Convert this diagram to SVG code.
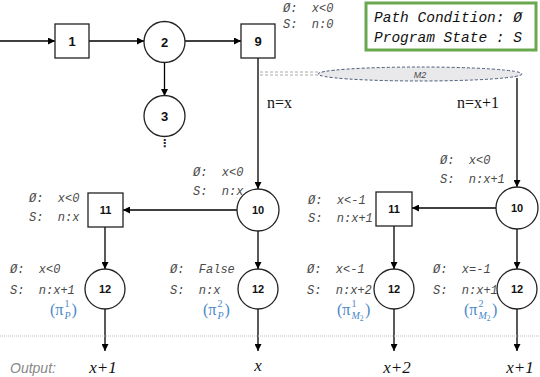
<svg xmlns="http://www.w3.org/2000/svg" width="540" height="377" viewBox="0 0 540 377">
<defs>
<marker id="ah" viewBox="0 0 10 10" refX="10" refY="5" markerWidth="7" markerHeight="7" markerUnits="userSpaceOnUse" orient="auto"><path d="M0,0 L10,5 L0,10 z" fill="#000"/></marker>
<style>
.n{fill:#fff;stroke:#222;stroke-width:1.3}
.nt{font-family:"Liberation Sans",Arial,sans-serif;font-weight:bold;font-size:13px;text-anchor:middle;fill:#111}
.ns{font-family:"Liberation Sans",Arial,sans-serif;font-weight:bold;font-size:11px;text-anchor:middle;fill:#111}
.e{stroke:#000;stroke-width:1.3;fill:none;marker-end:url(#ah)}
.lb{font-family:"Liberation Mono","Courier New",monospace;font-style:italic;font-size:12px;fill:#4a4a4a;white-space:pre}
.lg{font-family:"Liberation Mono","Courier New",monospace;font-style:italic;font-size:14.5px;fill:#111;white-space:pre}
.pi{font-family:"Liberation Serif","Times New Roman",serif;font-size:16px;fill:#4a88c8}
.pis{font-family:"Liberation Serif","Times New Roman",serif;font-size:10px;fill:#4a88c8}
.cond{font-family:"Liberation Serif","Times New Roman",serif;font-size:16px;fill:#111}
.out{font-family:"Liberation Serif","Times New Roman",serif;font-style:italic;font-size:17px;fill:#111;text-anchor:middle}
</style>
</defs>
<rect width="540" height="377" fill="#fff"/>

<g id="legend">
<rect x="366" y="3" width="170" height="47" fill="#fff" stroke="#6aa84f" stroke-width="3"/>
<text class="lg" x="374" y="22">Path Condition: Ø</text>
<text class="lg" x="374" y="42">Program State : S</text>
</g>

<g id="connectors">
<line class="e" x1="0" y1="41" x2="55" y2="41"/>
<line class="e" x1="89" y1="41" x2="144" y2="41"/>
<line class="e" x1="185" y1="41" x2="241" y2="41"/>
<line class="e" x1="164.5" y1="62" x2="164.5" y2="96"/>
<line class="e" x1="258" y1="58" x2="258" y2="189"/>
<line stroke="#aaa" stroke-width="1" stroke-dasharray="3,2" x1="260" y1="72" x2="318" y2="72"/>
<line stroke="#aaa" stroke-width="1" stroke-dasharray="3,2" x1="260" y1="75" x2="318" y2="75"/>
<line class="e" x1="517" y1="78" x2="517" y2="187"/>
<line class="e" x1="237" y1="210" x2="123" y2="210"/>
<line class="e" x1="496" y1="208" x2="412" y2="208"/>
<line class="e" x1="105" y1="227" x2="105" y2="269"/>
<line class="e" x1="258" y1="231" x2="258" y2="269"/>
<line class="e" x1="394" y1="226" x2="394" y2="269"/>
<line class="e" x1="517" y1="229" x2="517" y2="269"/>
<line class="e" x1="105" y1="309" x2="105" y2="351"/>
<line class="e" x1="258" y1="309" x2="258" y2="351"/>
<line class="e" x1="394" y1="309" x2="394" y2="351"/>
<line class="e" x1="517" y1="309" x2="517" y2="351"/>
<text class="cond" x="267" y="108">n=x</text>
<text class="cond" x="457" y="108">n=x+1</text>
</g>

<g id="sep">
<line x1="0" y1="336" x2="540" y2="336" stroke="#bbb" stroke-width="1" stroke-dasharray="1,1"/>
</g>

<g id="m2">
<ellipse cx="420" cy="74" rx="102" ry="7" fill="#e9e9ec" stroke="#4a5a78" stroke-width="1" stroke-dasharray="3,2"/>
<text x="420" y="77.5" font-family="Liberation Sans,Arial,sans-serif" font-style="italic" font-size="9" text-anchor="middle" fill="#444">M2</text>
</g>

<g id="n1"><rect class="n" x="55" y="24" width="34" height="34"/><text class="nt" x="72" y="46">1</text></g>
<g id="n2"><circle class="n" cx="164.5" cy="42" r="20.5"/><text class="nt" x="164.5" y="47">2</text></g>
<g id="n3"><circle class="n" cx="164.5" cy="116" r="20.5"/><text class="nt" x="164.5" y="121">3</text>
<text x="164.5" y="147" font-family="DejaVu Sans,sans-serif" font-size="11" font-weight="bold" text-anchor="middle" fill="#222">⋮</text></g>
<g id="n9"><rect class="n" x="241" y="24" width="34" height="34"/><text class="nt" x="258" y="46">9</text>
<text class="lb" x="283" y="12">Ø:  x&lt;0</text><text class="lb" x="283" y="28">S:  n:0</text></g>

<g id="n10a"><circle class="n" cx="258" cy="210" r="21"/><text class="ns" x="258" y="214">10</text>
<text class="lb" x="193" y="176">Ø:  x&lt;0</text><text class="lb" x="193" y="195">S:  n:x</text></g>
<g id="n11a"><rect class="n" x="88" y="193" width="35" height="34"/><text class="ns" x="105.5" y="214">11</text>
<text class="lb" x="29" y="202">Ø:  x&lt;0</text><text class="lb" x="29" y="221">S:  n:x</text></g>
<g id="n10b"><circle class="n" cx="517" cy="208" r="21"/><text class="ns" x="517" y="212">10</text>
<text class="lb" x="440" y="164">Ø:  x&lt;0</text><text class="lb" x="440" y="183">S:  n:x+1</text></g>
<g id="n11b"><rect class="n" x="376" y="192" width="36" height="34"/><text class="ns" x="394" y="213">11</text>
<text class="lb" x="308" y="204">Ø:  x&lt;-1</text><text class="lb" x="308" y="222">S:  n:x+1</text></g>

<g id="n12a"><circle class="n" cx="105" cy="289" r="20"/><text class="ns" x="105" y="293">12</text>
<text class="lb" x="10" y="273">Ø:  x&lt;0</text><text class="lb" x="10" y="294">S:  n:x+1</text>
<text class="pi" x="50" y="315">(π</text><text class="pis" x="64.5" y="307">1</text><text class="pis" x="64.5" y="319" font-style="italic">P</text><text class="pi" x="71.5" y="315">)</text></g>
<g id="n12b"><circle class="n" cx="258" cy="289" r="20"/><text class="ns" x="258" y="293">12</text>
<text class="lb" x="170" y="273">Ø:  False</text><text class="lb" x="170" y="294">S:  n:x</text>
<text class="pi" x="203" y="315">(π</text><text class="pis" x="217.5" y="307">2</text><text class="pis" x="217.5" y="319" font-style="italic">P</text><text class="pi" x="224.5" y="315">)</text></g>
<g id="n12c"><circle class="n" cx="394" cy="289" r="20"/><text class="ns" x="394" y="293">12</text>
<text class="lb" x="307" y="273">Ø:  x&lt;-1</text><text class="lb" x="307" y="294">S:  n:x+2</text>
<text class="pi" x="337" y="315">(π</text><text class="pis" x="351.5" y="307">1</text><text class="pis" x="351.5" y="319" font-style="italic">M<tspan font-size="7.5" font-style="normal" dy="2">2</tspan></text><text class="pi" x="365" y="315">)</text></g>
<g id="n12d"><circle class="n" cx="517" cy="289" r="20"/><text class="ns" x="517" y="293">12</text>
<text class="lb" x="433" y="273">Ø:  x=-1</text><text class="lb" x="433" y="294">S:  n:x+1</text>
<text class="pi" x="464" y="315">(π</text><text class="pis" x="478.5" y="307">2</text><text class="pis" x="478.5" y="319" font-style="italic">M<tspan font-size="7.5" font-style="normal" dy="2">2</tspan></text><text class="pi" x="492" y="315">)</text></g>

<g id="outputs">
<text x="10" y="373" font-family="Liberation Sans,Arial,sans-serif" font-style="italic" font-size="14" fill="#888">Output:</text>
<text class="out" x="103" y="373">x+1</text>
<text class="out" x="258" y="371">x</text>
<text class="out" x="397" y="373">x+2</text>
<text class="out" x="520" y="373">x+1</text>
</g>
</svg>
